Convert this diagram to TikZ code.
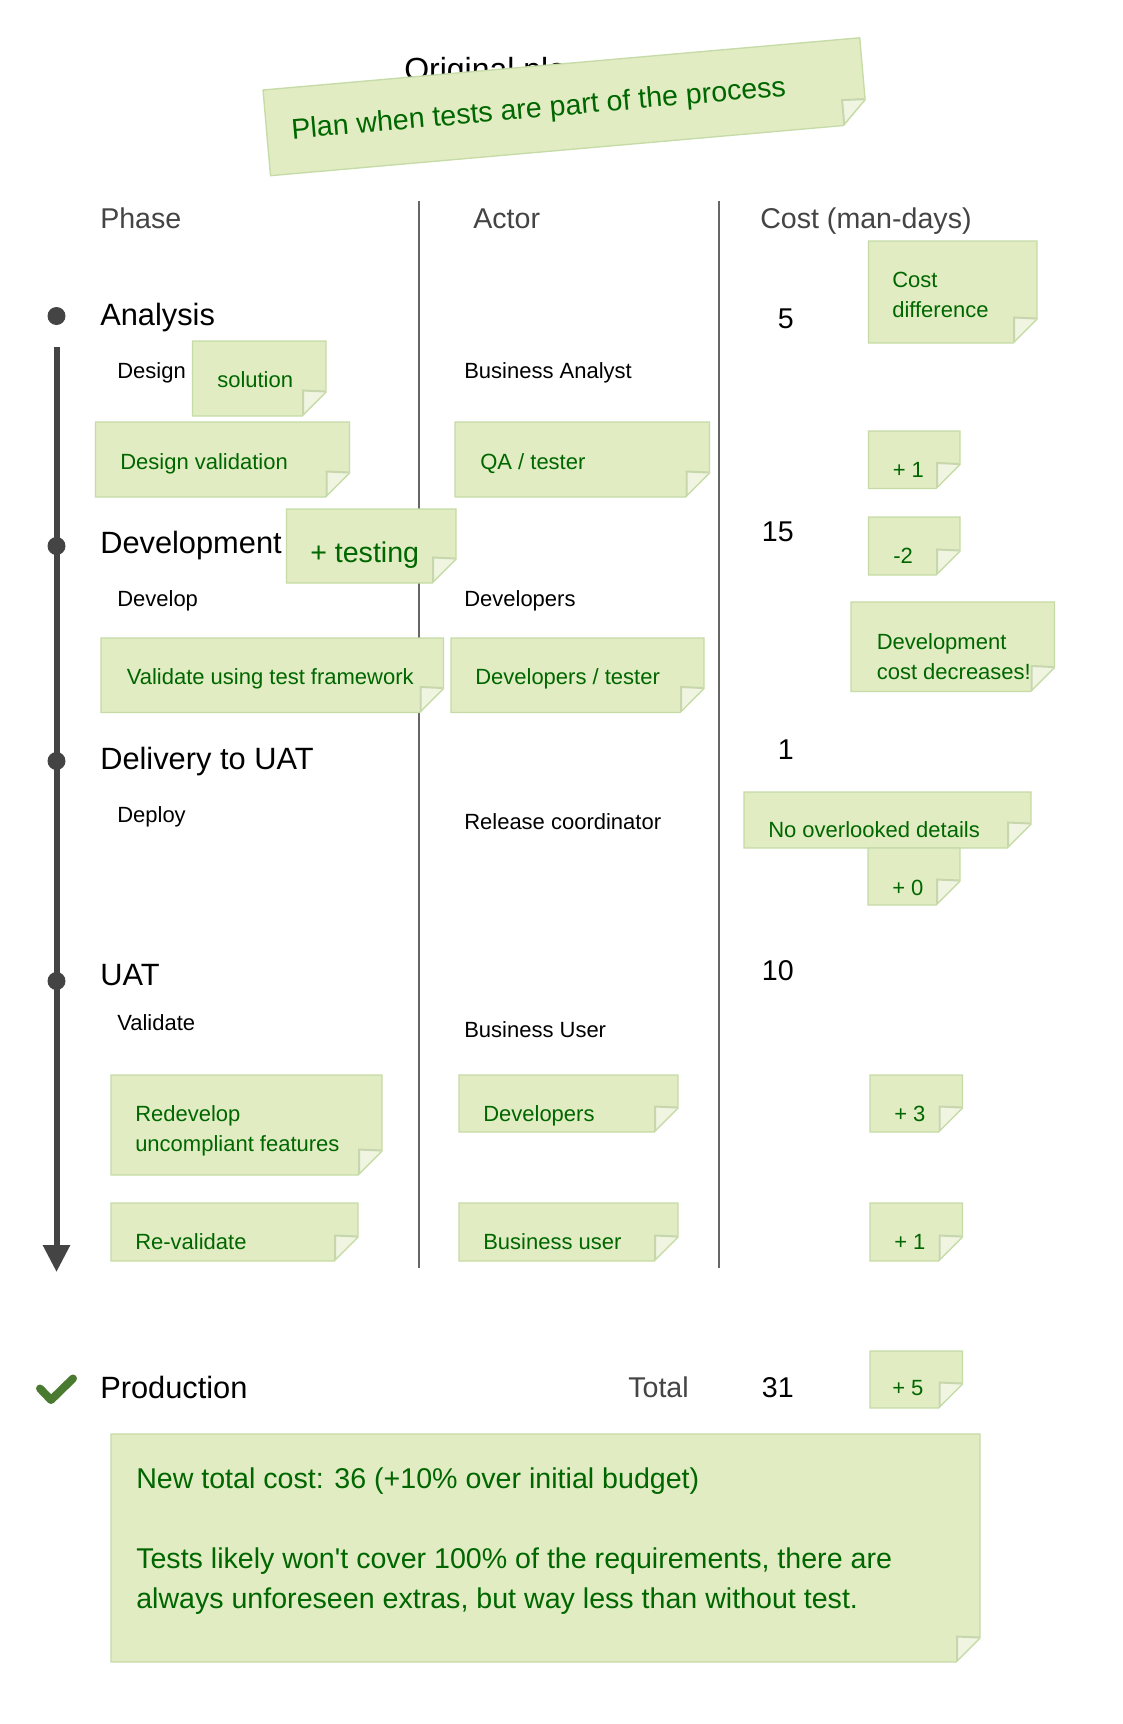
\documentclass[tikz,border=0pt]{standalone}
\usepackage{fontspec}
\setmainfont{Liberation Sans}
\usetikzlibrary{arrows.meta}

\definecolor{notefill}{HTML}{E1ECC3}
\definecolor{noteline}{HTML}{C6DBA6}
\definecolor{foldfill}{HTML}{EFF5E1}
\definecolor{foldshade}{HTML}{C8D6AD}
\definecolor{notegreen}{HTML}{006600}
\definecolor{linegray}{HTML}{444444}
\definecolor{colgray}{HTML}{666666}
\definecolor{headgray}{HTML}{444444}
\definecolor{checkgreen}{HTML}{4A7A30}

% sticky note with folded bottom-right corner: x0 y0 x1 y1
\newcommand{\stickynote}[4]{%
  \filldraw[fill=notefill, draw=noteline, line width=1pt]
    (#1,#2) -- (#3,#2) -- (#3,#4-24) -- (#3-24,#4) -- (#1,#4) -- cycle;
  \fill[foldfill] (#3-24,#4-26) -- (#3,#4-24) -- (#3-24,#4) -- cycle;
  \draw[foldshade, line width=1.5pt] (#3-1,#4-24.5) -- (#3-23,#4-25.5) -- (#3-23,#4-1);
  \draw[noteline, line width=1pt] (#3,#4-24) -- (#3-24,#4);
}

\begin{document}
\begin{tikzpicture}[x=0.75pt,y=-0.75pt,
    every node/.style={inner sep=0pt},
    header/.style={anchor=base west, text=headgray, font=\fontsize{21.45}{26}\selectfont},
    phase/.style={anchor=base west, font=\fontsize{23.1}{28}\selectfont},
    task/.style={anchor=base west, font=\fontsize{16.5}{22}\selectfont},
    cost/.style={anchor=base east, font=\fontsize{21.45}{26}\selectfont},
    notetext/.style={anchor=base west, align=left, text=notegreen, font=\fontsize{16.5}{22}\selectfont},
    bignotetext/.style={notetext, font=\fontsize{21.45}{30}\selectfont},
    bullet/.style={circle, fill=linegray, minimum size=13.5pt},
    colline/.style={colgray, line width=1.5pt}]

  \fill[white] (0,0) rectangle (1123,1724);
  \useasboundingbox (0,0) rectangle (1123,1724);

  % title, mostly hidden by the tilted note
  \node[anchor=base west, font=\fontsize{24}{29}\selectfont] (title) at (404,80) {Original plan};
  \begin{scope}[shift={(263,90)}, rotate=5]
    \stickynote{0}{0}{599}{86}
    \node[bignotetext, anchor=center, transform shape] (plan-note) at (273,44) {Plan when tests are part of the process};
  \end{scope}

  % columns
  \draw[colline] (419,201) -- (419,1268);
  \draw[colline] (719,201) -- (719,1268);
  \node[header] (hd-phase) at (100,228) {Phase};
  \node[header] (hd-actor) at (473,228) {Actor};
  \node[header] (hd-cost) at (760,228) {Cost (man-days)};

  % timeline
  \coordinate (tl-top) at (56.5,347);
  \coordinate (tl-end) at (56.5,1272);
  \draw[linegray, line width=4.5pt, -{Triangle[width=19.5pt,length=20.25pt]}] (tl-top) -- (tl-end);
  \node[bullet] (b-analysis) at (56.5,316) {};
  \node[bullet] (b-dev) at (56.5,546) {};
  \node[bullet] (b-deliv) at (56.5,761) {};
  \node[bullet] (b-uat) at (56.5,981) {};
  \draw[checkgreen, line width=6pt, line cap=round, line join=round] (40,1388.5) -- (51,1400) -- (73,1378.5);

  % phases
  \node[phase] (ph-analysis) at (100,325.5) {Analysis};
  \node[phase] (ph-dev) at (100,553) {Development};
  \node[phase] (ph-deliv) at (100,769) {Delivery to UAT};
  \node[phase] (ph-uat) at (100,985) {UAT};
  \node[phase] (ph-prod) at (100,1398) {Production};

  \node[task] (t-design) at (117,378) {Design};
  \node[task] (t-develop) at (117,606.5) {Develop};
  \node[task] (t-deploy) at (117,822) {Deploy};
  \node[task] (t-validate) at (117,1030.5) {Validate};

  \node[task] (a-analyst) at (464,378) {Business Analyst};
  \node[task] (a-devs) at (464,606.5) {Developers};
  \node[task] (a-release) at (464,829.5) {Release coordinator};
  \node[task] (a-user) at (464,1037.5) {Business User};

  \node[cost] (c-analysis) at (794,328) {5};
  \node[cost] (c-dev) at (794,541) {15};
  \node[cost] (c-deliv) at (794,759.5) {1};
  \node[cost] (c-uat) at (794,980) {10};
  \node[header] (total) at (628,1397) {Total};
  \node[cost] (c-total) at (794,1397) {31};

  % notes (multi-line texts sit on their last baseline)
  \stickynote{192.5}{341}{326}{416}
  \node[notetext] (n-solution) at (217,387) {solution};
  \stickynote{95.5}{422}{349.5}{497}
  \node[notetext] (n-designval) at (120,469) {Design validation};
  \stickynote{455}{422}{709.5}{497}
  \node[notetext] (n-qa) at (480,469) {QA / tester};
  \stickynote{286.5}{509}{456}{583}
  \node[bignotetext] (n-testing) at (310,562) {+ testing};
  \stickynote{101}{638}{443.5}{712.5}
  \node[notetext] (n-framework) at (126.5,684) {Validate using test framework};
  \stickynote{451}{638}{704}{712.5}
  \node[notetext] (n-devtester) at (475,684) {Developers / tester};

  \stickynote{868.5}{241}{1037}{343}
  \node[notetext] (n-costdiff) at (892,317) {Cost\\difference};
  \stickynote{868.5}{431}{960}{488.5}
  \node[notetext] (n-plus1a) at (892.5,477) {+ 1};
  \stickynote{868.5}{517}{960}{575}
  \node[notetext] (n-minus2) at (893,563) {-2};
  \stickynote{851}{602}{1054.5}{691.5}
  \node[notetext] (n-decrease) at (876.5,679) {Development\\cost decreases!};
  \stickynote{744}{792}{1031}{848}
  \node[notetext] (n-details) at (768,837) {No overlooked details};
  \stickynote{868}{848}{960}{905}
  \node[notetext] (n-plus0) at (892,895) {+ 0};

  \stickynote{111}{1075}{382}{1175}
  \node[notetext] (n-redevelop) at (135,1151) {Redevelop\\uncompliant features};
  \stickynote{459}{1075}{678}{1132}
  \node[notetext] (n-devs) at (483,1121) {Developers};
  \stickynote{870}{1075}{962.5}{1132}
  \node[notetext] (n-plus3) at (894,1121) {+ 3};
  \stickynote{111}{1203}{358}{1261}
  \node[notetext] (n-revalidate) at (135,1249) {Re-validate};
  \stickynote{459}{1203}{678}{1261}
  \node[notetext] (n-bizuser) at (483,1249) {Business user};
  \stickynote{870}{1203}{962.5}{1261}
  \node[notetext] (n-plus1b) at (894,1249) {+ 1};
  \stickynote{870}{1351}{962.5}{1408}
  \node[notetext] (n-plus5) at (892,1395) {+ 5};

  \stickynote{111}{1434}{980}{1662}
  \node[bignotetext] (n-summary) at (136,1608) {New total cost: 36 (+10\% over initial budget)\\[30pt]Tests likely won\textquotesingle t cover 100\% of the requirements, there are\\always unforeseen extras, but way less than without test.};
\end{tikzpicture}
\end{document}
